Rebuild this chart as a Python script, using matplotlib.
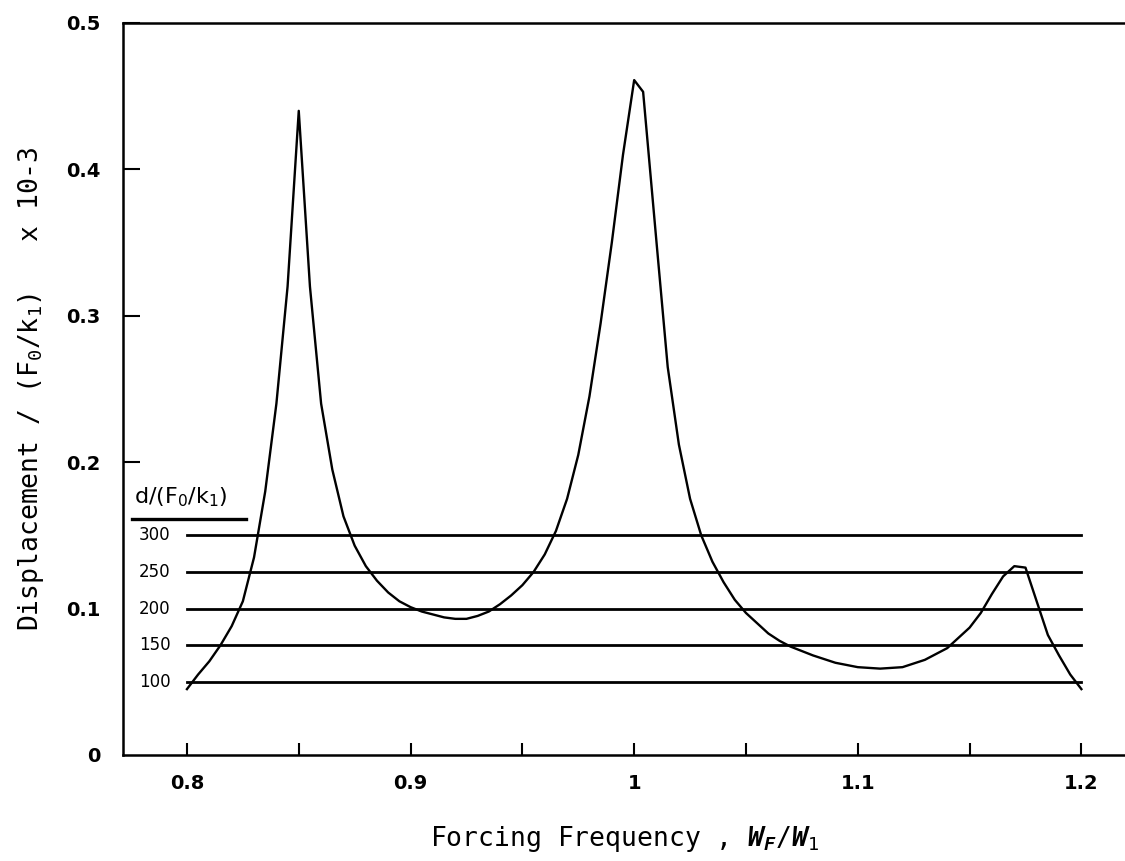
import matplotlib
matplotlib.use("Agg")
import matplotlib.pyplot as plt
import numpy as np

# response curve
freq = [0.800, 0.805, 0.810, 0.815, 0.820, 0.825, 0.830, 0.835, 0.840, 0.845,
        0.850, 0.855, 0.860, 0.865, 0.870, 0.875, 0.880, 0.885, 0.890, 0.895,
        0.900, 0.905, 0.910, 0.915, 0.920, 0.925, 0.930, 0.935, 0.940, 0.945,
        0.950, 0.955, 0.960, 0.965, 0.970, 0.975, 0.980, 0.985, 0.990, 0.995,
        1.000, 1.004, 1.010, 1.015, 1.020, 1.025, 1.030, 1.035, 1.040, 1.045,
        1.050, 1.055, 1.060, 1.065, 1.070, 1.080, 1.090, 1.100, 1.110, 1.120,
        1.130, 1.140, 1.150, 1.155, 1.160, 1.165, 1.170, 1.175, 1.180, 1.185,
        1.190, 1.195, 1.200]
disp = [0.045, 0.055, 0.064, 0.075, 0.088, 0.105, 0.135, 0.180, 0.240, 0.320,
        0.440, 0.320, 0.240, 0.195, 0.163, 0.143, 0.129, 0.119, 0.111, 0.105,
        0.101, 0.098, 0.096, 0.094, 0.093, 0.093, 0.095, 0.098, 0.103, 0.109,
        0.116, 0.125, 0.137, 0.153, 0.175, 0.205, 0.245, 0.295, 0.350, 0.410,
        0.461, 0.453, 0.350, 0.265, 0.212, 0.175, 0.150, 0.132, 0.118, 0.106,
        0.097, 0.090, 0.083, 0.078, 0.074, 0.068, 0.063, 0.060, 0.059, 0.060,
        0.065, 0.073, 0.087, 0.097, 0.110, 0.122, 0.129, 0.128, 0.105, 0.082,
        0.068, 0.055, 0.045]

# threshold levels d/(F0/k1) and their height on the y scale
levels = [300, 250, 200, 150, 100]
level_y = [0.150, 0.125, 0.100, 0.075, 0.050]

xticks = [0.8, 0.9, 1.0, 1.1, 1.2]
xtick_labels = ["0.8", "0.9", "1", "1.1", "1.2"]
yticks = [0, 0.1, 0.2, 0.3, 0.4, 0.5]
ytick_labels = ["0", "0.1", "0.2", "0.3", "0.4", "0.5"]

plt.rcParams['font.family'] = ['DejaVu Sans']
plt.rcParams['mathtext.fontset'] = 'custom'
plt.rcParams['mathtext.rm'] = 'DejaVu Sans Mono'
plt.rcParams['mathtext.it'] = 'DejaVu Sans Mono:italic:bold'
plt.rcParams['mathtext.sf'] = 'DejaVu Sans'

fig = plt.figure(figsize=(11.25, 8.61), dpi=100)
ax = fig.add_axes([123 / 1125, 1 - 755 / 861, 1 - 123 / 1125, (755 - 23) / 861])

ax.plot(freq, disp, color='black', lw=1.7)
for lv, yv in zip(levels, level_y):
    ax.plot([0.8, 1.2], [yv, yv], color='black', lw=2.0)
    ax.text(0.7857, yv, str(lv), ha='center', va='center', fontsize=12)

ax.text(0.7762, 0.168, r"d/(F$\mathsf{_0}$/k$\mathsf{_1}$)", ha='left', va='bottom', fontsize=16)
ax.plot([0.7755, 0.8262], [0.161, 0.161], color='black', lw=2.4, clip_on=False)

ax.set_xlim(0.7714, 1.2195)
ax.set_ylim(0, 0.5)
ax.set_xticks(xticks)
ax.set_xticklabels(xtick_labels)
ax.set_xticks(np.arange(0.85, 1.2, 0.1), minor=True)
ax.set_yticks(yticks)
ax.set_yticklabels(ytick_labels)
for lab in ax.get_xticklabels() + ax.get_yticklabels():
    lab.set_fontweight('bold')
ax.tick_params(axis='both', which='both', direction='in', width=1.5, labelsize=14)
ax.tick_params(axis='x', which='both', length=9, pad=14)
ax.tick_params(axis='y', length=12, pad=16)
# the 0.1 and 0 ticks are not drawn on the original
ax.yaxis.get_major_ticks()[0].tick1line.set_visible(False)
ax.yaxis.get_major_ticks()[1].tick1line.set_visible(False)
ax.spines['right'].set_visible(False)
for s in ['left', 'top', 'bottom']:
    ax.spines[s].set_linewidth(1.8)

ax.set_xlabel(r"Forcing Frequency , $W_F/W_1$", fontsize=19, labelpad=22,
              family='DejaVu Sans Mono')
ax.set_ylabel(r"Displacement / (F$_0$/k$_1$)   x 10-3", fontsize=19, labelpad=15,
              family='DejaVu Sans Mono')

fig.savefig("out.png", dpi=100)
